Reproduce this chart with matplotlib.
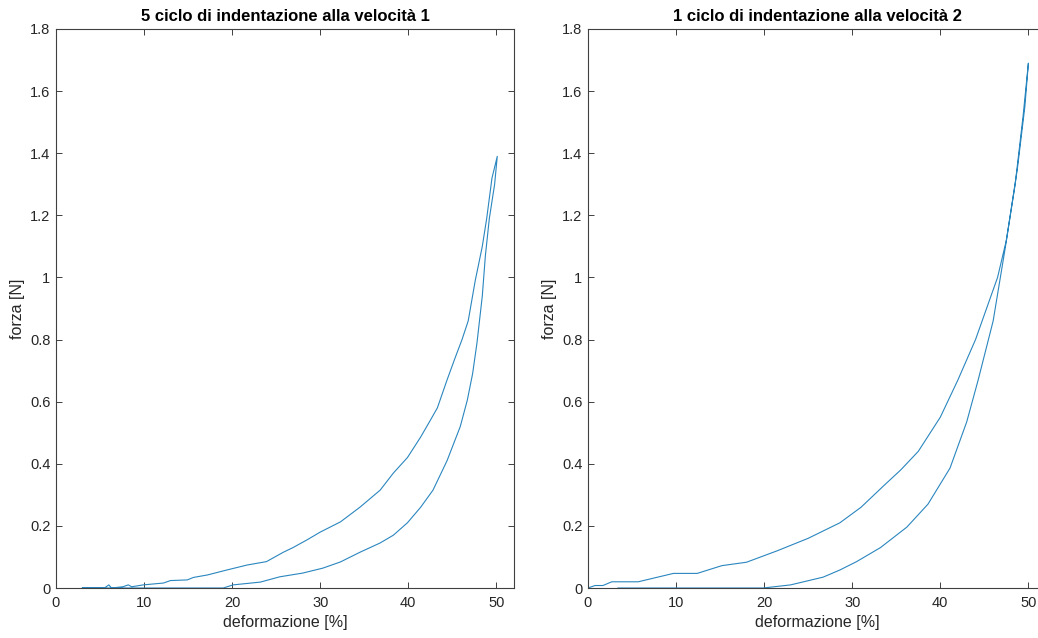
import numpy as np
import matplotlib
matplotlib.use('Agg')
import matplotlib.pyplot as plt

plt.rcParams['font.family'] = ['Liberation Sans', 'DejaVu Sans']

# velocity 1, cycle 5 (loading branch, then unloading branch)
v1_load_x = [3, 5.5, 6.0, 6.3, 7.6, 8.2, 8.6, 9.9, 12.2, 13.0, 14.9, 15.6, 17.2,
             19.4, 21.7, 23.9, 25.8, 26.9, 28.5, 30, 32.3, 34.5, 36.8, 38.3, 39.9,
             41.4, 42.5, 43.3, 44.4, 45.3, 46.1, 46.8, 47.6, 48.4, 48.9, 49.5, 50.1]
v1_load_y = [0, 0, 0.01, 0, 0.004, 0.01, 0.004, 0.01, 0.016, 0.024, 0.026, 0.034, 0.042,
             0.058, 0.074, 0.085, 0.115, 0.13, 0.155, 0.18, 0.213, 0.26, 0.315, 0.37, 0.42,
             0.486, 0.54, 0.58, 0.67, 0.74, 0.80, 0.86, 0.99, 1.10, 1.19, 1.32, 1.39]
v1_unload_x = [50.1, 49.8, 49.2, 48.75, 48.4, 47.8, 47.3, 46.7, 45.9, 44.4, 42.8,
               41.4, 39.9, 38.3, 36.8, 34.5, 32.3, 30.3, 28, 25.4, 23.2, 20.1, 19, 3]
v1_unload_y = [1.39, 1.30, 1.19, 1.07, 0.94, 0.79, 0.69, 0.605, 0.52, 0.41, 0.315,
               0.26, 0.21, 0.17, 0.145, 0.115, 0.084, 0.064, 0.048, 0.036, 0.019, 0.01, 0, 0]

# velocity 2, cycle 1
v2_load_x = [0, 0.8, 1.7, 2.7, 5.7, 9.7, 12.4, 15.2, 18, 21.5, 25, 28.6, 31, 33.6,
             35.5, 37.5, 40, 42, 44, 46.5, 47.5, 48.5, 49.4, 50]
v2_load_y = [0, 0.008, 0.008, 0.02, 0.02, 0.047, 0.047, 0.072, 0.083, 0.12, 0.16, 0.21,
             0.26, 0.33, 0.38, 0.44, 0.55, 0.67, 0.80, 1.0, 1.12, 1.3, 1.52, 1.69]
v2_unload_x = [50, 49.6, 48.75, 47.4, 46, 44.3, 43, 41.1, 38.6, 36.2, 33.2, 30.5,
               28.6, 26.7, 23, 19.9, 3.4]
v2_unload_y = [1.69, 1.55, 1.35, 1.10, 0.86, 0.67, 0.535, 0.386, 0.27, 0.196, 0.13,
               0.085, 0.058, 0.035, 0.01, 0, 0]

titles = ['5 ciclo di indentazione alla velocità 1',
          '1 ciclo di indentazione alla velocità 2']
xticks = [0, 10, 20, 30, 40, 50]
yticks = [0, 0.2, 0.4, 0.6, 0.8, 1, 1.2, 1.4, 1.6, 1.8]
ytick_labels = ['0', '0.2', '0.4', '0.6', '0.8', '1', '1.2', '1.4', '1.6', '1.8']

W, H = 1038, 638
fig = plt.figure(figsize=(W/100, H/100), dpi=100)
ax1 = fig.add_axes([56/W, (H-588)/H, 458/W, 559/H])
ax2 = fig.add_axes([588/W, (H-588)/H, 458/W, 559/H])

line_col = '#2a86bf'
axcol = '#404040'

curves = [(v1_load_x + v1_unload_x, v1_load_y + v1_unload_y),
          (v2_load_x + v2_unload_x, v2_load_y + v2_unload_y)]

for ax, title, (x, y) in zip([ax1, ax2], titles, curves):
    ax.plot(x, y, color=line_col, lw=0.8)
    ax.set_xlim(0, 52)
    ax.set_ylim(0, 1.8)
    ax.set_xticks(xticks)
    ax.set_xticklabels([str(t) for t in xticks])
    ax.set_yticks(yticks)
    ax.set_yticklabels(ytick_labels)
    ax.tick_params(direction='in', length=4, width=0.7, colors=axcol,
                   labelcolor='#262626', labelsize=10.5, top=True, right=True)
    ax.tick_params(axis='x', pad=6)
    ax.tick_params(axis='y', pad=4)
    for s in ax.spines.values():
        s.set_color(axcol)
        s.set_linewidth(0.8)
    ax.set_title(title, fontsize=12, fontweight='bold', pad=6)
    ax.set_xlabel('deformazione [%]', fontsize=11.5, color='#262626', labelpad=3)
    ax.set_ylabel('forza [N]', fontsize=11.5, color='#262626', labelpad=4)

fig.savefig('out.png', dpi=100)
